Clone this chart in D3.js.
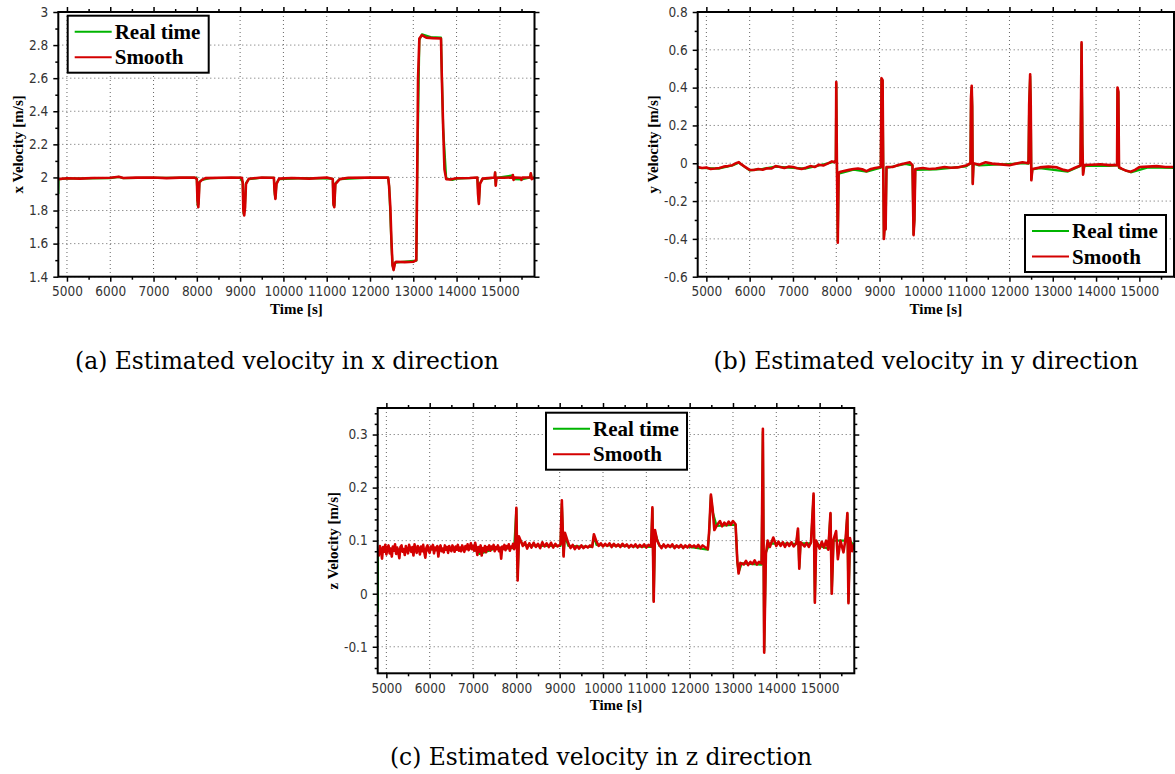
<!DOCTYPE html>
<html>
<head>
<meta charset="utf-8">
<script src="https://cdn.jsdelivr.net/npm/d3@7"></script>
<style>
body { margin: 0; background: #fff; }
.tick text { font-family: "DejaVu Sans Condensed", "Liberation Sans", sans-serif; font-size: 13.5px; fill: #333; }
</style>
</head>
<body>
<div class="chart"></div>
<script>
// time axis (shared by the three panels)
const timeTicks = [5000, 6000, 7000, 8000, 9000, 10000, 11000, 12000, 13000, 14000, 15000];
const timeMinor = [5500, 6500, 7500, 8500, 9500, 10500, 11500, 12500, 13500, 14500, 15500];

// panel (a): x velocity
const xTicksY = [1.4, 1.6, 1.8, 2, 2.2, 2.4, 2.6, 2.8, 3];
const xLabelsY = ["1.4", "1.6", "1.8", "2", "2.2", "2.4", "2.6", "2.8", "3"];
const xMinorY = [1.5, 1.7, 1.9, 2.1, 2.3, 2.5, 2.7, 2.9];
const xSmooth = [[4800,1.99],[5000,1.995],[5300,1.993],[5600,1.997],[6000,1.998],[6200,2.004],[6300,1.997],[6600,1.999],[7000,2.0],[7300,1.996],[7600,1.999],[7950,2.0],[8000,1.99],[8015,1.86],[8035,1.82],[8050,1.9],[8060,1.97],[8120,1.985],[8200,1.996],[8500,1.998],[8800,2.0],[9040,1.998],[9060,1.97],[9075,1.8],[9095,1.77],[9115,1.82],[9135,1.96],[9200,1.992],[9500,2.0],[9780,1.998],[9795,1.92],[9815,1.87],[9840,1.96],[9900,1.993],[10200,1.997],[10600,1.993],[11000,2.0],[11140,1.99],[11155,1.84],[11175,1.82],[11200,1.96],[11300,1.99],[11500,1.998],[12000,2.0],[12300,1.999],[12420,2.0],[12440,1.95],[12470,1.82],[12495,1.62],[12520,1.47],[12545,1.44],[12575,1.48],[12600,1.49],[12800,1.488],[13000,1.49],[13070,1.5],[13090,2.0],[13110,2.6],[13140,2.84],[13200,2.86],[13300,2.845],[13450,2.842],[13640,2.84],[13660,2.6],[13690,2.3],[13720,2.05],[13760,1.99],[13850,1.988],[14000,1.995],[14300,1.997],[14480,2.0],[14495,1.9],[14515,1.84],[14540,1.96],[14600,1.993],[14880,2.0],[14890,2.03],[14905,1.95],[14920,2.0],[15100,1.998],[15290,2.0],[15300,2.015],[15315,1.985],[15340,2.0],[15480,1.998],[15500,1.985],[15520,2.0],[15700,2.0],[15715,2.025],[15735,1.99],[15800,2.0]];
const xReal = [[4800,1.9],[4806,1.99],[5000,1.993],[6000,1.996],[6200,2.003],[6300,1.996],[7000,1.998],[7990,1.997],[8000,1.99],[8020,1.83],[8040,1.84],[8060,1.975],[8120,1.985],[8300,1.995],[9000,1.998],[9060,1.97],[9080,1.78],[9110,1.83],[9135,1.965],[9200,1.99],[9500,1.998],[9780,1.997],[9800,1.9],[9815,1.875],[9840,1.965],[9900,1.99],[10500,1.996],[11140,1.992],[11160,1.83],[11180,1.83],[11200,1.965],[11300,1.99],[12000,1.998],[12420,1.998],[12445,1.94],[12495,1.6],[12520,1.47],[12545,1.445],[12575,1.485],[13070,1.497],[13090,2.0],[13140,2.83],[13200,2.865],[13400,2.848],[13640,2.845],[13690,2.3],[13760,1.995],[13900,1.985],[14000,1.993],[14480,1.998],[14515,1.85],[14540,1.965],[14600,1.99],[14880,1.998],[14890,2.03],[14905,1.955],[14920,1.998],[15300,2.012],[15320,1.99],[15500,1.988],[15700,2.0],[15715,2.022],[15740,1.995],[15800,2.0]];

// panel (b): y velocity
const yTicksY = [-0.6, -0.4, -0.2, 0, 0.2, 0.4, 0.6, 0.8];
const yLabelsY = ["-0.6", "-0.4", "-0.2", "0", "0.2", "0.4", "0.6", "0.8"];
const yMinorY = [-0.5, -0.3, -0.1, 0.1, 0.3, 0.5, 0.7];
const ySmooth = [[4800,-0.02],[4900,-0.025],[5000,-0.022],[5100,-0.03],[5200,-0.028],[5300,-0.025],[5400,-0.018],[5500,-0.015],[5600,-0.01],[5700,0.002],[5750,0.006],[5800,-0.005],[5900,-0.02],[6000,-0.035],[6100,-0.036],[6200,-0.03],[6300,-0.034],[6400,-0.026],[6500,-0.028],[6600,-0.015],[6700,-0.02],[6800,-0.025],[6900,-0.018],[7000,-0.02],[7100,-0.026],[7200,-0.03],[7300,-0.024],[7400,-0.015],[7500,-0.02],[7600,-0.008],[7700,-0.012],[7800,-0.002],[7900,0.01],[7960,0.005],[7990,0.015],[8000,0.43],[8015,0.0],[8035,-0.42],[8055,-0.05],[8100,-0.045],[8200,-0.04],[8300,-0.035],[8400,-0.03],[8500,-0.028],[8600,-0.032],[8700,-0.042],[8800,-0.03],[8900,-0.025],[9030,-0.02],[9045,0.45],[9070,0.44],[9085,-0.02],[9100,-0.40],[9120,-0.33],[9140,-0.35],[9160,-0.02],[9300,-0.02],[9400,-0.012],[9500,-0.005],[9600,0.0],[9700,0.005],[9760,-0.01],[9785,-0.38],[9805,-0.30],[9825,-0.03],[9900,-0.028],[10000,-0.025],[10150,-0.03],[10300,-0.028],[10500,-0.02],[10650,-0.024],[10800,-0.022],[11000,-0.012],[11100,0.0],[11112,0.35],[11128,0.41],[11140,0.3],[11152,-0.11],[11170,0.0],[11300,-0.008],[11450,0.005],[11600,-0.002],[11800,-0.006],[12000,-0.01],[12150,-0.002],[12300,0.005],[12440,0.0],[12455,0.31],[12478,0.47],[12492,0.3],[12505,-0.09],[12530,-0.03],[12700,-0.022],[12900,-0.018],[13100,-0.022],[13250,-0.035],[13350,-0.04],[13500,-0.025],[13640,-0.012],[13665,0.64],[13685,0.1],[13700,-0.06],[13730,-0.01],[13900,-0.008],[14100,-0.005],[14300,-0.01],[14485,-0.01],[14495,0.4],[14515,0.38],[14530,-0.02],[14600,-0.03],[14700,-0.04],[14800,-0.045],[14900,-0.035],[15000,-0.02],[15200,-0.018],[15400,-0.015],[15600,-0.02],[15800,-0.02]];
const yReal = [[4800,-0.025],[5000,-0.026],[5300,-0.028],[5600,-0.012],[5750,0.003],[6000,-0.038],[6300,-0.03],[6600,-0.018],[7000,-0.024],[7300,-0.028],[7600,-0.012],[7990,0.01],[8000,0.42],[8015,0.0],[8035,-0.415],[8055,-0.055],[8400,-0.034],[8700,-0.045],[9030,-0.024],[9045,0.445],[9070,0.435],[9085,-0.02],[9100,-0.395],[9120,-0.33],[9140,-0.345],[9160,-0.025],[9600,-0.003],[9760,-0.012],[9785,-0.375],[9805,-0.3],[9825,-0.035],[10300,-0.032],[11000,-0.016],[11100,-0.002],[11112,0.34],[11128,0.4],[11140,0.3],[11152,-0.105],[11170,-0.002],[11300,-0.012],[12300,0.0],[12440,-0.002],[12455,0.3],[12478,0.46],[12492,0.3],[12505,-0.085],[12530,-0.032],[12700,-0.026],[13350,-0.044],[13640,-0.015],[13665,0.63],[13685,0.1],[13700,-0.055],[13730,-0.012],[14300,-0.014],[14485,-0.012],[14495,0.39],[14515,0.375],[14530,-0.025],[14800,-0.048],[15200,-0.022],[15800,-0.024]];

// panel (c): z velocity
const zTicksY = [-0.1, 0, 0.1, 0.2, 0.3];
const zLabelsY = ["-0.1", "0", "0.1", "0.2", "0.3"];
const zMinorY = [-0.14, -0.12, -0.08, -0.06, -0.04, -0.02, 0.02, 0.04, 0.06, 0.08, 0.12, 0.14, 0.16, 0.18, 0.22, 0.24, 0.26, 0.28, 0.32, 0.34];
const zSmooth = [[4800,0.080],[4825,0.072],[4850,0.090],[4875,0.083],[4900,0.066],[4925,0.088],[4950,0.079],[4975,0.092],[5000,0.074],[5025,0.086],[5050,0.091],[5075,0.076],[5100,0.085],[5125,0.070],[5150,0.089],[5175,0.081],[5200,0.093],[5225,0.075],[5250,0.087],[5275,0.078],[5300,0.067],[5325,0.088],[5350,0.091],[5375,0.079],[5400,0.084],[5425,0.073],[5450,0.090],[5475,0.082],[5500,0.076],[5525,0.092],[5550,0.085],[5575,0.079],[5600,0.088],[5625,0.072],[5650,0.093],[5675,0.083],[5700,0.077],[5725,0.090],[5750,0.085],[5775,0.074],[5800,0.089],[5825,0.080],[5850,0.092],[5875,0.078],[5900,0.068],[5925,0.087],[5950,0.091],[5975,0.081],[6000,0.077],[6025,0.089],[6050,0.084],[6075,0.092],[6100,0.076],[6125,0.087],[6150,0.082],[6175,0.090],[6200,0.070],[6225,0.086],[6250,0.091],[6275,0.080],[6300,0.085],[6325,0.078],[6350,0.091],[6375,0.083],[6400,0.088],[6425,0.077],[6450,0.090],[6475,0.084],[6500,0.080],[6525,0.091],[6550,0.086],[6575,0.079],[6600,0.089],[6625,0.083],[6650,0.092],[6675,0.081],[6700,0.087],[6725,0.080],[6750,0.091],[6775,0.085],[6800,0.079],[6825,0.090],[6850,0.084],[6875,0.093],[6900,0.082],[6925,0.088],[6950,0.095],[6975,0.084],[7000,0.090],[7025,0.081],[7050,0.096],[7075,0.086],[7100,0.073],[7125,0.088],[7150,0.079],[7175,0.091],[7200,0.072],[7225,0.086],[7250,0.080],[7275,0.090],[7300,0.078],[7325,0.088],[7350,0.083],[7375,0.091],[7400,0.081],[7425,0.089],[7450,0.085],[7475,0.092],[7500,0.080],[7525,0.088],[7550,0.084],[7575,0.091],[7600,0.080],[7625,0.087],[7650,0.066],[7675,0.089],[7700,0.084],[7725,0.092],[7750,0.082],[7775,0.090],[7800,0.086],[7825,0.093],[7850,0.081],[7875,0.089],[7900,0.087],[7925,0.094],[7950,0.084],[7975,0.090],[8000,0.162],[8030,0.025],[8060,0.108],[8100,0.1],[8150,0.09],[8200,0.097],[8250,0.085],[8300,0.095],[8350,0.087],[8400,0.096],[8450,0.088],[8500,0.094],[8550,0.086],[8600,0.097],[8650,0.089],[8700,0.095],[8750,0.088],[8800,0.096],[8850,0.087],[8900,0.094],[8950,0.089],[9020,0.093],[9050,0.176],[9090,0.07],[9120,0.115],[9200,0.095],[9250,0.086],[9300,0.092],[9350,0.084],[9400,0.09],[9450,0.085],[9500,0.091],[9550,0.086],[9600,0.09],[9650,0.087],[9700,0.091],[9750,0.088],[9790,0.112],[9850,0.098],[9900,0.09],[9950,0.095],[10000,0.089],[10050,0.094],[10100,0.09],[10150,0.095],[10200,0.088],[10250,0.094],[10300,0.089],[10350,0.093],[10400,0.088],[10450,0.094],[10500,0.089],[10550,0.093],[10600,0.087],[10650,0.092],[10700,0.088],[10750,0.093],[10800,0.087],[10850,0.092],[10900,0.088],[10950,0.093],[11000,0.087],[11050,0.092],[11110,0.089],[11140,0.163],[11170,-0.015],[11200,0.12],[11250,0.1],[11300,0.092],[11350,0.086],[11400,0.093],[11450,0.087],[11500,0.092],[11550,0.088],[11600,0.093],[11650,0.086],[11700,0.091],[11750,0.087],[11800,0.092],[11850,0.086],[11900,0.091],[11950,0.087],[12000,0.092],[12050,0.088],[12100,0.091],[12150,0.087],[12200,0.092],[12250,0.086],[12300,0.091],[12350,0.088],[12420,0.084],[12450,0.118],[12490,0.187],[12530,0.16],[12570,0.12],[12620,0.128],[12700,0.137],[12750,0.127],[12800,0.134],[12850,0.129],[12900,0.136],[12950,0.13],[13000,0.137],[13060,0.131],[13100,0.062],[13130,0.038],[13170,0.058],[13250,0.055],[13300,0.062],[13350,0.054],[13400,0.06],[13450,0.056],[13500,0.063],[13550,0.055],[13600,0.06],[13660,0.057],[13690,0.311],[13720,-0.111],[13760,0.075],[13800,0.1],[13850,0.088],[13930,0.106],[14000,0.09],[14050,0.098],[14100,0.09],[14150,0.097],[14200,0.088],[14250,0.096],[14300,0.09],[14350,0.097],[14400,0.089],[14460,0.095],[14500,0.123],[14530,0.047],[14560,0.097],[14650,0.089],[14700,0.096],[14750,0.088],[14800,0.097],[14860,0.189],[14890,-0.017],[14920,0.1],[15000,0.085],[15050,0.098],[15100,0.087],[15150,0.1],[15200,0.083],[15250,0.152],[15280,0.0],[15320,0.102],[15380,0.118],[15420,0.065],[15480,0.1],[15550,0.078],[15600,0.104],[15640,0.152],[15665,-0.018],[15700,0.105],[15750,0.08],[15800,0.095]];
const zReal = [[4800,-0.035],[4806,0.08],[5000,0.085],[5500,0.082],[6000,0.084],[6500,0.083],[7000,0.086],[7150,0.075],[7500,0.085],[7950,0.086],[8000,0.16],[8030,0.03],[8060,0.105],[8150,0.092],[8600,0.09],[9020,0.09],[9050,0.17],[9090,0.072],[9120,0.11],[9200,0.09],[9750,0.088],[9790,0.108],[9850,0.092],[10500,0.09],[11110,0.088],[11140,0.16],[11170,-0.013],[11200,0.115],[11300,0.09],[12000,0.088],[12420,0.083],[12450,0.115],[12490,0.185],[12530,0.155],[12620,0.128],[13060,0.13],[13100,0.06],[13130,0.04],[13200,0.057],[13660,0.055],[13690,0.305],[13720,-0.108],[13760,0.078],[13850,0.095],[14460,0.094],[14500,0.12],[14530,0.05],[14560,0.095],[14800,0.095],[14860,0.185],[14890,-0.014],[14920,0.098],[15000,0.09],[15200,0.085],[15250,0.15],[15280,0.003],[15320,0.1],[15600,0.1],[15640,0.15],[15665,-0.015],[15700,0.1],[15800,0.09]];

const seriesNames = ["Real time", "Smooth"];
const colors = ["#00b400", "#d40000"];

const svg = d3.select(".chart")
  .append("svg")
  .attr("width", 1175)
  .attr("height", 774)
  .style("display", "block");

function panel(p) {
  const g = svg.append("g");
  const x = d3.scaleLinear().domain([4800, 15800]).range([p.left, p.right]);
  const y = d3.scaleLinear().domain(p.yDomain).range([p.bottom, p.top]);

  // dotted grid
  g.selectAll(".gx").data(timeTicks).join("line")
    .attr("x1", d => x(d)).attr("x2", d => x(d))
    .attr("y1", p.top).attr("y2", p.bottom)
    .attr("stroke", "#666").attr("stroke-width", 1).attr("stroke-dasharray", "1,3");
  g.selectAll(".gy").data(p.yTicks).join("line")
    .attr("x1", p.left).attr("x2", p.right)
    .attr("y1", d => y(d)).attr("y2", d => y(d))
    .attr("stroke", "#666").attr("stroke-width", 1).attr("stroke-dasharray", "1,3");

  // clipped data lines
  const clipId = "clip-" + p.id;
  svg.append("clipPath").attr("id", clipId)
    .append("rect")
    .attr("x", p.left).attr("y", p.top)
    .attr("width", p.right - p.left).attr("height", p.bottom - p.top);

  const line = d3.line().x(d => x(d[0])).y(d => y(d[1]));
  const lines = g.append("g").attr("clip-path", `url(#${clipId})`);
  lines.append("path").datum(p.real)
    .attr("d", line).attr("fill", "none")
    .attr("stroke", colors[0]).attr("stroke-width", 2.2).attr("stroke-linejoin", "round");
  lines.append("path").datum(p.smooth)
    .attr("d", line).attr("fill", "none")
    .attr("stroke", colors[1]).attr("stroke-width", 2.6).attr("stroke-linejoin", "round");

  // axes, ticks pointing out on all four sides
  const axes = [
    [d3.axisBottom(x).tickValues(timeTicks).tickSize(5).tickFormat(d3.format("d")), `translate(0,${p.bottom})`],
    [d3.axisBottom(x).tickValues(timeMinor).tickSize(3).tickFormat(""), `translate(0,${p.bottom})`],
    [d3.axisTop(x).tickValues(timeTicks).tickSize(5).tickFormat(""), `translate(0,${p.top})`],
    [d3.axisTop(x).tickValues(timeMinor).tickSize(3).tickFormat(""), `translate(0,${p.top})`],
    [d3.axisLeft(y).tickValues(p.yTicks).tickSize(5).tickFormat((d, i) => p.yLabels[i]), `translate(${p.left},0)`],
    [d3.axisLeft(y).tickValues(p.yMinor).tickSize(3).tickFormat(""), `translate(${p.left},0)`],
    [d3.axisRight(y).tickValues(p.yTicks).tickSize(5).tickFormat(""), `translate(${p.right},0)`],
    [d3.axisRight(y).tickValues(p.yMinor).tickSize(3).tickFormat(""), `translate(${p.right},0)`]
  ];
  axes.forEach(([ax, tr]) => {
    const a = g.append("g").attr("transform", tr).call(ax.tickPadding(5));
    a.select(".domain").remove();
    a.selectAll(".tick line").attr("stroke", "#000").attr("stroke-width", 1.5);
  });

  g.append("rect")
    .attr("x", p.left).attr("y", p.top)
    .attr("width", p.right - p.left).attr("height", p.bottom - p.top)
    .attr("fill", "none").attr("stroke", "#000").attr("stroke-width", 2);

  // axis titles
  g.append("text")
    .attr("x", (p.left + p.right) / 2).attr("y", p.bottom + 37)
    .attr("text-anchor", "middle")
    .attr("font-family", "Liberation Serif, serif").attr("font-weight", "bold").attr("font-size", 15)
    .text("Time [s]");
  g.append("text")
    .attr("transform", `translate(${p.labelX},${(p.top + p.bottom) / 2}) rotate(-90)`)
    .attr("text-anchor", "middle").attr("dominant-baseline", "central")
    .attr("font-family", "Liberation Serif, serif").attr("font-weight", "bold").attr("font-size", 15)
    .text(p.yTitle);

  // legend
  const lg = g.append("g").attr("transform", `translate(${p.legend[0]},${p.legend[1]})`);
  lg.append("rect").attr("width", 141).attr("height", 57)
    .attr("fill", "#fff").attr("stroke", "#000").attr("stroke-width", 2);
  seriesNames.forEach((name, i) => {
    const ly = 16 + i * 25.6;
    lg.append("line").attr("x1", 7).attr("x2", 44).attr("y1", ly).attr("y2", ly)
      .attr("stroke", colors[i]).attr("stroke-width", 2);
    lg.append("text").attr("x", 47).attr("y", ly + 7)
      .attr("font-family", "Liberation Serif, serif").attr("font-weight", "bold").attr("font-size", 21)
      .text(name);
  });

  // caption
  svg.append("text")
    .attr("x", p.caption[0]).attr("y", p.caption[1])
    .attr("text-anchor", "middle")
    .attr("font-family", "DejaVu Serif, serif").attr("font-size", 23.4)
    .attr("fill", "#000")
    .text(p.captionText);
}

panel({id: "a", left: 58.3, right: 534.5, top: 12, bottom: 276.7, yDomain: [1.4, 3],
  yTicks: xTicksY, yLabels: xLabelsY, yMinor: xMinorY, smooth: xSmooth, real: xReal,
  yTitle: "x Velocity [m/s]", labelX: 18, legend: [67.7, 15.7],
  caption: [287, 369], captionText: "(a) Estimated velocity in x direction"});

panel({id: "b", left: 697.7, right: 1174, top: 12, bottom: 276.7, yDomain: [-0.6, 0.8],
  yTicks: yTicksY, yLabels: yLabelsY, yMinor: yMinorY, smooth: ySmooth, real: yReal,
  yTitle: "y Velocity [m/s]", labelX: 653, legend: [1025, 215],
  caption: [926, 369], captionText: "(b) Estimated velocity in y direction"});

panel({id: "c", left: 377.7, right: 854.3, top: 408, bottom: 673.3, yDomain: [-0.15, 0.35],
  yTicks: zTicksY, yLabels: zLabelsY, yMinor: zMinorY, smooth: zSmooth, real: zReal,
  yTitle: "z Velocity [m/s]", labelX: 333, legend: [546, 412.7],
  caption: [601, 765], captionText: "(c) Estimated velocity in z direction"});
</script>
</body>
</html>
